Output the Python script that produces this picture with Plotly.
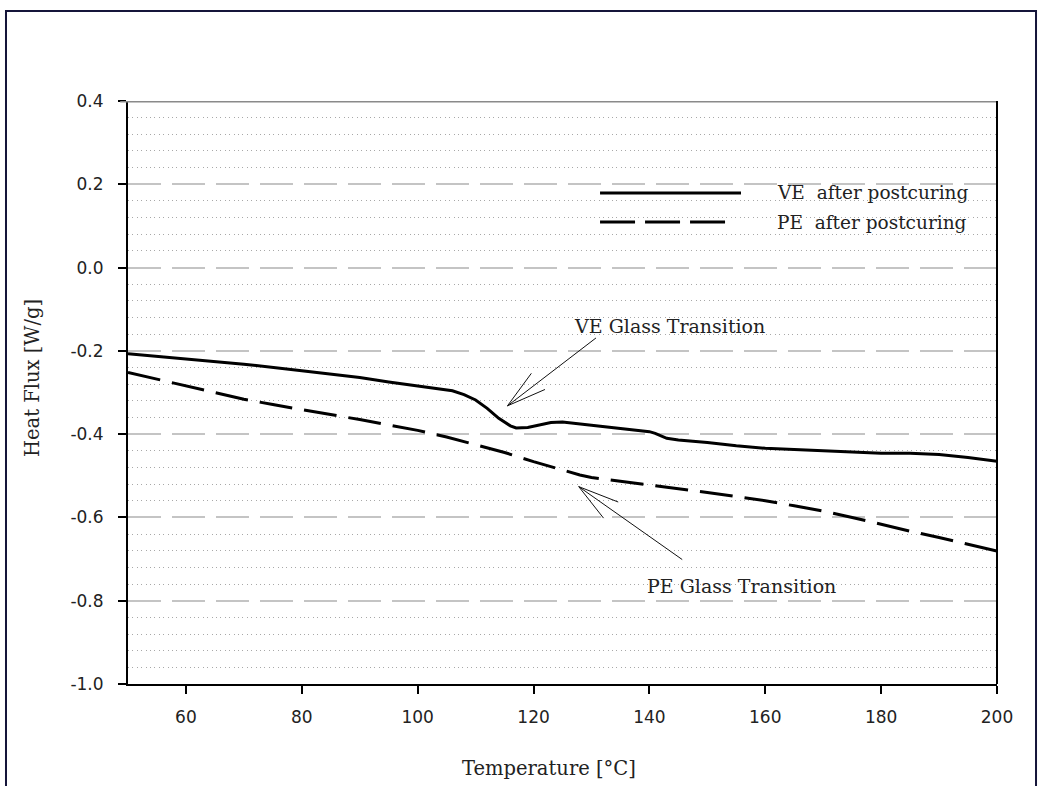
import plotly.graph_objects as go

# DSC heat-flux traces after postcuring
ve_temp = [50, 60, 70, 80, 90, 95, 100, 103, 106, 108, 110, 112, 114, 116, 117,
           119, 121, 123, 125, 127, 130, 135, 140, 141, 143, 145, 150, 155, 160,
           165, 170, 175, 180, 185, 190, 195, 200]
ve_flux = [-0.207, -0.219, -0.232, -0.248, -0.264, -0.275, -0.285, -0.290, -0.296,
           -0.305, -0.318, -0.338, -0.362, -0.380, -0.385, -0.384, -0.378, -0.372,
           -0.371, -0.374, -0.379, -0.386, -0.394, -0.398, -0.410, -0.414, -0.420,
           -0.428, -0.434, -0.437, -0.440, -0.444, -0.446, -0.446, -0.449, -0.456,
           -0.465]

pe_temp = [50, 55, 60, 65, 70, 75, 80, 85, 90, 95, 100, 105, 110, 115, 120, 125,
           128, 130, 135, 140, 145, 150, 155, 160, 165, 170, 175, 180, 185, 190,
           195, 200]
pe_flux = [-0.252, -0.268, -0.284, -0.300, -0.316, -0.329, -0.341, -0.352, -0.365,
           -0.378, -0.391, -0.407, -0.425, -0.444, -0.466, -0.487, -0.498, -0.504,
           -0.513, -0.521, -0.530, -0.540, -0.550, -0.560, -0.572, -0.585, -0.600,
           -0.617, -0.633, -0.648, -0.664, -0.681]

series_names = ["VE  after postcuring", "PE  after postcuring"]

x_ticks = [60, 80, 100, 120, 140, 160, 180, 200]
y_ticks = [-1.0, -0.8, -0.6, -0.4, -0.2, 0.0, 0.2, 0.4]
y_tick_text = ["-1.0", "-0.8", "-0.6", "-0.4", "-0.2", "0.0", "0.2", "0.4"]
# dotted minor grid every 0.04, skipping the dashed major lines
y_minor = [round(-1.0 + 0.04 * i, 2) for i in range(1, 35) if i % 5 != 0]

# Glass transition markers: (temperature, flux) of the arrow tip
ve_tg = (115.5, -0.332)
pe_tg = (127.8, -0.526)

SERIF = "DejaVu Serif"
SANS = "DejaVu Sans"
PE_DASH = "33px,12px"
TEXT = "#222"

fig = go.Figure()
fig.add_trace(go.Scatter(x=ve_temp, y=ve_flux, mode="lines", name=series_names[0],
                         line=dict(color="black", width=3), showlegend=False))
fig.add_trace(go.Scatter(x=pe_temp, y=pe_flux, mode="lines", name=series_names[1],
                         line=dict(color="black", width=3, dash=PE_DASH),
                         showlegend=False))

fig.update_layout(
    width=1040, height=786,
    margin=dict(l=128, r=43, t=101, b=102),
    paper_bgcolor="white", plot_bgcolor="white",
    font=dict(family=SANS, color=TEXT),
)

fig.update_xaxes(
    range=[50, 200], tickvals=x_ticks, showgrid=False, zeroline=False,
    showline=True, linecolor="black", linewidth=2,
    ticks="outside", ticklen=8, tickwidth=2, tickcolor="black",
    tickfont=dict(family=SANS, size=17, color=TEXT), ticklabelstandoff=9,
)
fig.update_yaxes(
    range=[-1.0, 0.4], tickvals=y_ticks, ticktext=y_tick_text, zeroline=False,
    showline=True, linecolor="black", linewidth=2,
    ticks="outside", ticklen=8, tickwidth=2, tickcolor="black",
    tickfont=dict(family=SANS, size=17, color=TEXT), ticklabelstandoff=11,
    showgrid=True, gridcolor="#c4c4c4", gridwidth=1.5, griddash="33px,11px",
    minor=dict(tickmode="array", tickvals=y_minor, showgrid=True,
               gridcolor="#a8a8a8", gridwidth=1, griddash="1px,3.4px", ticklen=0),
)

# axis titles
fig.add_annotation(xref="paper", yref="paper", x=0.4845, y=-0.1441,
                   xanchor="center", yanchor="middle",
                   text="Temperature [°C]", showarrow=False,
                   font=dict(family=SERIF, size=19.5, color=TEXT))
fig.add_annotation(xref="paper", yref="paper", x=-0.1093, y=0.5249,
                   xanchor="center", yanchor="middle",
                   text="Heat Flux [W/g]", showarrow=False, textangle=-90,
                   font=dict(family=SERIF, size=19.5, color=TEXT))

# plot frame: grey top edge, black right edge
fig.add_shape(type="line", xref="paper", yref="y", x0=-0.009, x1=1, y0=0.4, y1=0.4,
              line=dict(color="#8a8a8a", width=3))
fig.add_shape(type="line", xref="paper", yref="paper", x0=1, x1=1, y0=0, y1=1,
              line=dict(color="black", width=2))

# outer border of the figure
fig.add_shape(type="rect", xref="paper", yref="paper",
              x0=-0.1404, x1=1.0449, y0=-0.2, y1=1.1544,
              line=dict(color="#15153a", width=2), fillcolor="rgba(0,0,0,0)")

# legend drawn inside the plot
legend_rows = [(0.8422, 0.7054, "solid"), (0.7924, 0.6893, "35px,10px")]
for (ypos, xend, dash), label in zip(legend_rows, series_names):
    fig.add_shape(type="line", xref="paper", yref="paper", x0=0.5432, x1=xend,
                  y0=ypos, y1=ypos, line=dict(color="black", width=3, dash=dash))
    fig.add_annotation(xref="paper", yref="paper", x=0.7445, y=ypos, text=label,
                       showarrow=False, xanchor="left", yanchor="middle",
                       font=dict(family=SERIF, size=18.5, color=TEXT))


def open_arrow(tip, shaft, barbs):
    """Thin arrow with an open head: shaft plus two barbs ending at the tip."""
    for ax, ay in [shaft] + barbs:
        fig.add_annotation(x=tip[0], y=tip[1], xref="x", yref="y", ax=ax, ay=ay,
                           text="", showarrow=True, arrowhead=0, arrowwidth=1,
                           arrowcolor="#111", standoff=0, startstandoff=0)


open_arrow(ve_tg, (90, -69), [(25, -34), (39, -17)])
open_arrow(pe_tg, (105, 74), [(41, 16), (26, 33)])

fig.add_annotation(x=143.4, y=-0.140, xref="x", yref="y", text="VE Glass Transition",
                   showarrow=False, font=dict(family=SERIF, size=19, color=TEXT))
fig.add_annotation(x=155.9, y=-0.765, xref="x", yref="y", text="PE Glass Transition",
                   showarrow=False, font=dict(family=SERIF, size=19, color=TEXT))

fig.write_html("out.html")
